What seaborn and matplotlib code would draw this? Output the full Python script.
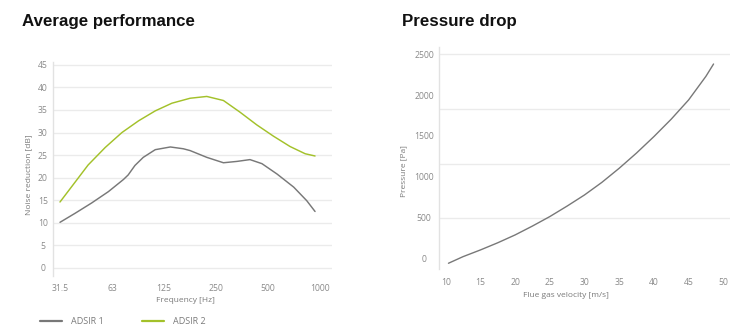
import matplotlib
matplotlib.use("Agg")
import matplotlib.pyplot as plt
import seaborn as sns
import pandas as pd

# ---- Data: Average performance (noise reduction vs frequency) ----
freq_ticks = [31.5, 63, 125, 250, 500, 1000]
freq_tick_labels = ["31.5", "63", "125", "250", "500", "1000"]
# positions in octaves above 31.5 Hz
adsir1_oct = [0.0, 0.29, 0.61, 0.93, 1.22, 1.31, 1.44, 1.60, 1.83, 2.12, 2.37, 2.5,
              2.82, 3.14, 3.40, 3.65, 3.88, 4.17, 4.49, 4.74, 4.90]
adsir1_db = [10.1, 12.1, 14.4, 16.9, 19.6, 20.6, 22.7, 24.5, 26.2, 26.8, 26.4, 26.0,
             24.5, 23.3, 23.6, 24.0, 23.1, 20.8, 17.9, 14.9, 12.5]
adsir2_oct = [0.0, 0.29, 0.54, 0.87, 1.19, 1.51, 1.83, 2.15, 2.5, 2.82, 3.14, 3.46,
              3.78, 4.10, 4.42, 4.71, 4.90]
adsir2_db = [14.6, 19.0, 22.8, 26.7, 30.0, 32.6, 34.8, 36.5, 37.6, 38.0, 37.1, 34.5,
             31.7, 29.2, 26.9, 25.3, 24.8]
series_names = ["ADSIR 1", "ADSIR 2"]
y1_ticks = [0, 5, 10, 15, 20, 25, 30, 35, 40, 45]

# ---- Data: Pressure drop ----
velocity = [10.4, 12.5, 15, 17.5, 20, 22.5, 25, 27.5, 30, 32.5, 35, 37.5, 40, 42.5, 45, 47.5, 48.6]
pressure = [-61, 20, 102, 190, 286, 395, 511, 640, 776, 930, 1103, 1290, 1491, 1705, 1940, 2230, 2381]
vel_ticks = [10, 15, 20, 25, 30, 35, 40, 45, 50]
p_ticks = [0, 500, 1000, 1500, 2000, 2500]
p_grid = [490, 1160, 1830, 2500]

GRAY = "#787878"
GREEN = "#a3c12a"
GRID = "#ebebeb"
TICKC = "#8a8a8a"
LABC = "#7a7a7a"

sns.set_theme(style="white")
plt.rcParams["font.family"] = ["Open Sans", "DejaVu Sans"]
plt.rcParams["lines.solid_capstyle"] = "round"
plt.rcParams["lines.solid_joinstyle"] = "round"

fig = plt.figure(figsize=(7.5, 3.36), dpi=100)
W, H = 750, 336

def axes_px(x0, x1, ytop, ybot):
    return fig.add_axes([x0 / W, 1 - ybot / H, (x1 - x0) / W, (ybot - ytop) / H])

# ---------- Left chart ----------
ax1 = axes_px(52.7, 331.7, 61.7, 276)
df1 = pd.concat([
    pd.DataFrame({"freq": [31.5 * 2 ** o for o in adsir1_oct], "db": adsir1_db, "series": series_names[0]}),
    pd.DataFrame({"freq": [31.5 * 2 ** o for o in adsir2_oct], "db": adsir2_db, "series": series_names[1]}),
])
ax1.set_xscale("log", base=2)
sns.lineplot(data=df1, x="freq", y="db", hue="series", palette=[GRAY, GREEN],
             ax=ax1, legend=False, linewidth=1.05, sort=False)
ax1.set_xlim(31.5 * 2 ** -0.14, 31.5 * 2 ** 5.22)
ax1.set_ylim(-1.8, 45.7)
ax1.set_xticks(freq_ticks)
ax1.set_xticklabels(freq_tick_labels)
ax1.xaxis.set_minor_locator(matplotlib.ticker.NullLocator())
ax1.set_yticks(y1_ticks)
for v in y1_ticks:
    ax1.axhline(v, color=GRID, lw=1.0, zorder=0)
ax1.set_xlabel("Frequency [Hz]", fontsize=6, color=LABC)
ax1.set_ylabel("Noise reduction [dB]", fontsize=6, color=LABC)
ax1.xaxis.set_label_coords(0.474, -0.10)
ax1.yaxis.set_label_coords(-0.074, 0.471)
ax1.tick_params(axis="x", length=0, pad=6, labelsize=6.2, labelcolor=TICKC)
ax1.tick_params(axis="y", length=0, pad=7, labelsize=6.2, labelcolor=TICKC)
for lab in ax1.get_yticklabels():
    lab.set_horizontalalignment("center")

# ---------- Right chart ----------
ax2 = axes_px(439.3, 730, 46.7, 269.3)
df2 = pd.DataFrame({"velocity": velocity, "pressure": pressure})
sns.lineplot(data=df2, x="velocity", y="pressure", color=GRAY, ax=ax2, linewidth=1.0)
ax2.set_xlim(9.08, 50.97)
ax2.set_ylim(-135, 2593)
ax2.set_xticks(vel_ticks)
ax2.set_yticks(p_ticks)
for v in p_grid:
    ax2.axhline(v, color=GRID, lw=1.0, zorder=0)
ax2.set_xlabel("Flue gas velocity [m/s]", fontsize=6, color=LABC)
ax2.set_ylabel("Pressure [Pa]", fontsize=6, color=LABC)
ax2.xaxis.set_label_coords(0.435, -0.10)
ax2.yaxis.set_label_coords(-0.110, 0.443)
ax2.tick_params(axis="x", length=0, pad=6, labelsize=6.2, labelcolor=TICKC)
ax2.tick_params(axis="y", length=0, pad=11, labelsize=6.2, labelcolor=TICKC)
for lab in ax2.get_yticklabels():
    lab.set_horizontalalignment("center")

for ax in (ax1, ax2):
    ax.grid(False)
    for s in ("top", "right", "bottom"):
        ax.spines[s].set_visible(False)
    ax.spines["left"].set_color("#e2e2e2")
    ax.spines["left"].set_linewidth(1.0)
    ax.set_facecolor("white")

# ---------- Titles ----------
fig.text(22 / W, 1 - 26 / H, "Average performance", fontsize=12.2, fontweight="bold",
         family=["Liberation Sans", "DejaVu Sans"], color="#111111", va="baseline", ha="left")
fig.text(402.3 / W, 1 - 26 / H, "Pressure drop", fontsize=12.2, fontweight="bold",
         family=["Liberation Sans", "DejaVu Sans"], color="#111111", va="baseline", ha="left")

# ---------- Legend ----------
handles = [matplotlib.lines.Line2D([], [], color=c, lw=1.6) for c in (GRAY, GREEN)]
fig.legend(handles, series_names, loc="center left", bbox_to_anchor=(40 / W, 1 - 321.3 / H),
           ncol=2, frameon=False, fontsize=6.5, labelcolor=LABC, handlelength=2.4,
           handletextpad=1.0, columnspacing=4.3, borderpad=0, borderaxespad=0)

fig.savefig("out.png", dpi=100, facecolor="white")
